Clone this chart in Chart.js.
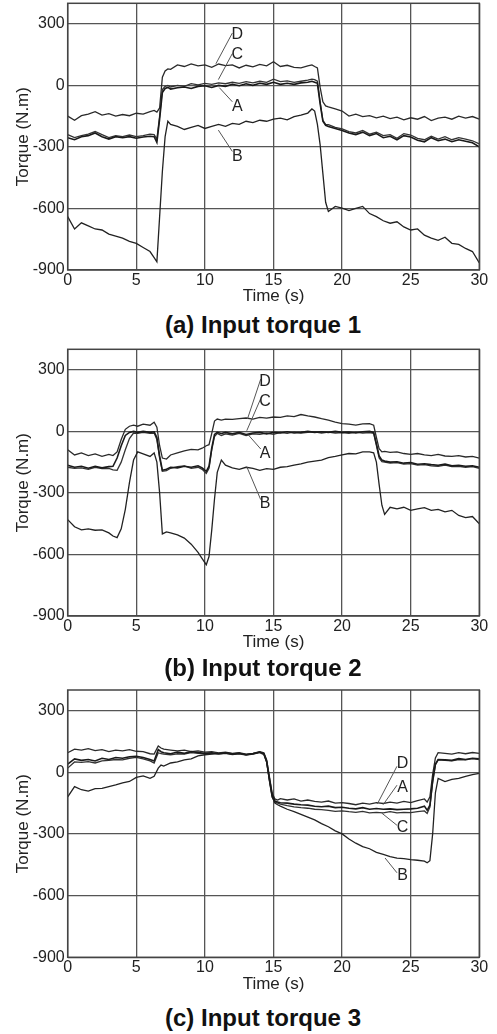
<!DOCTYPE html>
<html>
<head>
<meta charset="utf-8">
<title>Input torque A/B/C/D</title>
<script src="https://cdn.jsdelivr.net/npm/chart.js@4.4.1/dist/chart.umd.min.js"></script>
<style>
  body { margin: 0; background: #fff; }
  .panel { position: absolute; left: 0; width: 497px; }
  .caption { position: absolute; left: 0; width: 526px; text-align: center;
             font: bold 24px Arial, "Liberation Sans", sans-serif; line-height: 26px; color: #111; }
</style>
</head>
<body>
<div class="panel" style="top:0;height:310px"><canvas id="torque1"></canvas></div>
<div class="caption" style="top:312px">(a) Input torque 1</div>
<div class="panel" style="top:345px;height:310px"><canvas id="torque2"></canvas></div>
<div class="caption" style="top:655px">(b) Input torque 2</div>
<div class="panel" style="top:686px;height:312px"><canvas id="torque3"></canvas></div>
<div class="caption" style="top:1005px">(c) Input torque 3</div>
<script>

// ---- (a) input torque 1
var time1 = [0,0.5,1,1.5,2,2.5,3,3.5,4,4.5,5,5.5,6,
  6.3,6.5,6.7,6.9,7.1,7.3,7.5,
  8,8.5,9,9.5,10,10.5,11,11.5,12,12.5,13,13.5,14,14.5,15,15.5,16,16.5,17,17.5,
  17.8,18,18.2,18.4,18.6,18.8,
  19,19.5,20,20.5,21,21.5,22,22.5,23,23.5,24,24.5,25,25.5,26,26.5,27,27.5,28,28.5,29,29.5,30];
var curve1A = [-255,-265,-250,-245,-232,-250,-262,-250,-255,-250,-258,-252,-248,
  -250,-278,-165,-35,-15,-10,-18,
  -12,-8,-15,-5,-2,-10,0,-5,5,-2,8,0,10,5,15,5,10,5,12,15,
  20,15,10,-90,-175,-195,
  -200,-210,-220,-232,-240,-228,-245,-235,-255,-248,-265,-245,-252,-268,-275,-255,-270,-262,-275,-265,-272,-280,-300];
var curve1B = [-640,-700,-670,-685,-700,-705,-725,-735,-745,-760,-770,-790,-810,
  -840,-860,-640,-420,-250,-175,-190,
  -200,-215,-205,-195,-210,-200,-190,-200,-185,-190,-175,-182,-170,-175,-165,-160,-168,-152,-145,-135,
  -115,-125,-190,-290,-430,-570,
  -615,-590,-598,-610,-600,-590,-625,-640,-660,-672,-665,-690,-705,-700,-730,-745,-755,-740,-770,-775,-795,-810,-865];
var curve1C = [-240,-255,-245,-238,-225,-240,-255,-245,-250,-242,-250,-245,-238,
  -240,-262,-150,-20,-5,0,-8,
  0,-5,8,2,10,5,12,8,15,10,18,12,20,15,30,18,22,15,20,25,
  30,28,20,-80,-170,-190,
  -192,-205,-212,-225,-232,-220,-238,-228,-245,-240,-258,-235,-242,-258,-265,-248,-262,-250,-265,-255,-262,-270,-285];
var curve1D = [-150,-170,-148,-140,-128,-145,-138,-150,-142,-148,-136,-140,-128,
  -122,-130,-110,40,70,80,78,
  100,92,105,95,100,88,104,96,100,85,98,90,102,95,115,92,98,88,85,95,
  100,92,85,-10,-80,-100,
  -105,-115,-125,-150,-140,-152,-148,-158,-150,-162,-155,-168,-158,-165,-152,-172,-160,-155,-165,-150,-160,-152,-165];

// ---- (b) input torque 2
var time2 = [0,0.5,1,1.5,2,2.5,3,
  3.3,3.6,3.9,4.2,4.5,4.8,5.1,
  5.5,6,
  6.3,6.5,6.7,6.9,7.2,7.5,
  8,8.5,9,9.5,
  9.8,10.1,10.3,10.5,10.7,10.9,11.2,11.5,
  12,12.5,13,13.5,14,14.5,15,15.5,16,16.5,17,17.5,18,18.5,19,19.5,20,20.5,21,21.5,22,
  22.3,22.5,22.7,22.9,23.1,
  23.5,24,24.5,25,25.5,26,26.5,27,27.5,28,28.5,29,29.5,30];
var curve2A = [-165,-175,-170,-180,-170,-178,-172,
  -170,-130,-70,-20,-5,0,-5,
  0,-5,
  -2,-30,-120,-190,-185,-175,
  -178,-170,-175,-168,
  -178,-195,-170,-80,-15,-5,-10,-5,
  -12,-5,-15,-8,-5,-12,-5,-8,-2,-8,-5,0,-5,-2,-5,0,-5,-3,-8,-2,0,
  -5,-60,-120,-140,-145,
  -150,-148,-155,-152,-160,-158,-162,-165,-160,-168,-165,-170,-168,-175];
var curve2B = [-430,-465,-480,-475,-482,-480,-495,
  -510,-518,-475,-380,-250,-140,-100,
  -110,-122,
  -105,-150,-300,-500,-490,-495,
  -505,-520,-550,-590,
  -620,-650,-610,-480,-330,-200,-140,-165,
  -178,-185,-175,-180,-190,-182,-185,-175,-172,-165,-158,-150,-145,-140,-128,-122,-115,-108,-110,-100,-100,
  -105,-150,-260,-360,-405,
  -370,-378,-370,-385,-378,-372,-385,-380,-392,-385,-410,-420,-415,-450];
var curve2C = [-175,-180,-178,-185,-175,-182,-180,
  -188,-190,-150,-90,-35,-8,-10,
  -5,-10,
  -8,-40,-130,-195,-192,-180,
  -172,-168,-180,-175,
  -185,-205,-180,-90,-25,-10,-20,-12,
  -18,-10,-20,-12,-15,-8,-15,-5,-10,-3,-8,-5,-2,-8,-4,-8,-6,-10,-4,-8,-6,
  -10,-70,-130,-148,-150,
  -155,-152,-160,-157,-165,-162,-168,-170,-165,-172,-170,-175,-172,-180];
var curve2D = [-90,-115,-105,-118,-110,-122,-112,
  -118,-100,-40,10,25,30,25,
  35,30,
  45,20,-70,-130,-135,-115,
  -105,-95,-88,-90,
  -82,-70,-65,-10,50,60,55,60,
  58,62,65,60,68,65,70,68,75,72,82,75,70,62,55,45,38,35,30,36,38,
  30,-30,-85,-100,-98,
  -102,-100,-108,-112,-108,-115,-118,-112,-120,-122,-118,-125,-122,-130];

// ---- (c) input torque 3
var time3 = [0,0.5,1,1.5,2,2.5,3,3.5,4,4.5,5,5.5,6,
  6.3,6.6,6.8,
  7,7.5,8,8.5,9,9.5,10,10.5,11,11.5,12,12.5,13,13.5,14,
  14.3,14.5,14.7,14.9,15.1,15.3,
  15.5,16,16.5,17,17.5,18,18.5,19,19.5,20,20.5,21,21.5,22,22.5,23,23.5,24,24.5,25,25.5,26,
  26.2,26.4,26.6,26.8,27,
  27.5,28,28.5,29,29.5,30];
var curve3A = [40,65,58,62,55,68,62,72,68,75,78,72,62,
  55,110,100,
  95,90,98,92,100,96,92,95,90,94,88,92,85,90,98,
  90,55,-30,-110,-140,-145,
  -148,-150,-155,-158,-160,-165,-168,-165,-172,-170,-175,-178,-172,-180,-176,-180,-178,-182,-180,-178,-175,-165,
  -185,-160,-40,40,62,
  60,58,66,62,68,65];
var curve3B = [-120,-70,-85,-92,-80,-78,-70,-62,-52,-45,-25,-18,-30,
  -20,20,35,
  30,45,50,60,65,80,85,88,92,94,90,92,86,90,98,
  90,50,-40,-120,-150,-158,
  -165,-180,-192,-205,-218,-232,-250,-265,-285,-300,-325,-345,-362,-372,-390,-400,-410,-418,-420,-425,-428,-432,
  -440,-430,-300,-100,-30,
  -45,-35,-30,-20,-12,-5];
var curve3C = [20,50,48,52,45,55,58,62,60,68,72,65,55,
  45,95,90,
  88,85,90,88,95,92,90,92,88,92,86,90,84,88,95,
  85,50,-40,-120,-145,-150,
  -155,-162,-168,-172,-175,-180,-182,-185,-190,-188,-192,-195,-190,-198,-195,-198,-192,-198,-195,-196,-192,-188,
  -200,-170,-50,35,60,
  58,55,62,60,66,62];
var curve3D = [95,112,108,115,105,110,100,108,104,110,102,100,90,
  88,128,118,
  112,108,104,108,100,104,98,100,94,98,92,95,88,92,100,
  95,60,-20,-100,-130,-135,
  -128,-135,-130,-140,-135,-142,-145,-140,-150,-148,-152,-158,-150,-155,-148,-152,-145,-150,-142,-148,-138,-130,
  -145,-120,-10,70,95,
  92,88,95,90,96,92];

// axis ticks
var timeTicks = [0, 5, 10, 15, 20, 25, 30];
var torqueTicks = [-900, -600, -300, 0, 300];

// curve letters with their pointer lines, in data units (time s, torque N.m)
var tags1 = [
  { text: 'D', at: [12.36, 246], from: [12.0, 255], to: [10.8, 105] },
  { text: 'C', at: [12.36, 149], from: [12.0, 155], to: [10.98, 28] },
  { text: 'A', at: [12.36, -102], from: [12.0, -80], to: [11.05, -11] },
  { text: 'B', at: [12.36, -345], from: [12.0, -322], to: [10.98, -218] }
];
var tags2 = [
  { text: 'D', at: [14.38, 243], from: [14.07, 255], to: [13.1, 60] },
  { text: 'C', at: [14.38, 144], from: [14.07, 160], to: [13.05, 3] },
  { text: 'A', at: [14.38, -107], from: [14.07, -86], to: [13.16, -17] },
  { text: 'B', at: [14.38, -353], from: [14.07, -333], to: [13.05, -172] }
];
var tags3 = [
  { text: 'D', at: [24.41, 42], from: [24.0, 29], to: [22.57, -154] },
  { text: 'A', at: [24.41, -76], from: [24.0, -63], to: [23.0, -157] },
  { text: 'C', at: [24.41, -271], from: [24.0, -258], to: [22.88, -198] },
  { text: 'B', at: [24.41, -505], from: [24.0, -489], to: [23.13, -417] }
];

Chart.defaults.font.family = 'Arial, "Liberation Sans", Helvetica, sans-serif';
Chart.defaults.color = '#222';

// box around the plot area (top and right edges are not grid lines)
var frame = {
  id: 'frame',
  afterDatasetsDraw: function(chart) {
    var a = chart.chartArea, ctx = chart.ctx;
    ctx.save();
    ctx.strokeStyle = '#444';
    ctx.lineWidth = 1.5;
    ctx.strokeRect(a.left, a.top, a.right - a.left, a.bottom - a.top);
    ctx.restore();
  }
};

function tagPlugin(tags) {
  return {
    id: 'curveTags',
    afterDatasetsDraw: function(chart) {
      var xs = chart.scales.x, ys = chart.scales.y, ctx = chart.ctx;
      ctx.save();
      ctx.strokeStyle = '#555';
      ctx.lineWidth = 1;
      ctx.fillStyle = '#222';
      ctx.font = '16px Arial, "Liberation Sans", sans-serif';
      ctx.textAlign = 'center';
      ctx.textBaseline = 'middle';
      tags.forEach(function(tag) {
        ctx.beginPath();
        ctx.moveTo(xs.getPixelForValue(tag.from[0]), ys.getPixelForValue(tag.from[1]));
        ctx.lineTo(xs.getPixelForValue(tag.to[0]), ys.getPixelForValue(tag.to[1]));
        ctx.stroke();
        ctx.fillText(tag.text, xs.getPixelForValue(tag.at[0]), ys.getPixelForValue(tag.at[1]));
      });
      ctx.restore();
    }
  };
}

function points(time, values) {
  return time.map(function(t, i) { return { x: t, y: values[i] }; });
}

function drawPanel(canvasId, time, curves, tags, padTop, padBottom) {
  var styles = [
    { label: 'A', color: '#1a1a1a', width: 1.6 },
    { label: 'B', color: '#222222', width: 1.3 },
    { label: 'C', color: '#333333', width: 1.3 },
    { label: 'D', color: '#2a2a2a', width: 1.3 }
  ];
  return new Chart(document.getElementById(canvasId), {
    type: 'line',
    data: {
      datasets: curves.map(function(vals, i) {
        return {
          label: styles[i].label,
          data: points(time, vals),
          borderColor: styles[i].color,
          borderWidth: styles[i].width,
          pointRadius: 0,
          tension: 0,
          fill: false
        };
      })
    },
    options: {
      animation: false,
      responsive: true,
      maintainAspectRatio: false,
      layout: { padding: { top: padTop, right: 17.7, bottom: padBottom, left: 0 } },
      plugins: { legend: { display: false }, tooltip: { enabled: false } },
      scales: {
        x: {
          type: 'linear',
          min: 0,
          max: 30,
          afterBuildTicks: function(scale) {
            scale.ticks = timeTicks.map(function(v) { return { value: v }; });
          },
          afterFit: function(scale) {
            scale.height = 37;
            scale.paddingLeft = 0;
            scale.paddingRight = 0;
          },
          grid: { color: '#555', lineWidth: 1.3, drawTicks: false },
          border: { display: false },
          ticks: { padding: 1, maxRotation: 0, font: { size: 16 }, color: '#222' },
          title: { display: true, text: 'Time (s)', font: { size: 17 }, color: '#222', padding: 0 }
        },
        y: {
          min: -900,
          max: 400,
          afterBuildTicks: function(scale) {
            scale.ticks = torqueTicks.map(function(v) { return { value: v }; });
          },
          afterFit: function(scale) {
            scale.width = 67.7;
            scale.paddingTop = 0;
            scale.paddingBottom = 0;
          },
          grid: { color: '#555', lineWidth: 1.3, drawTicks: false },
          border: { display: false },
          ticks: { padding: 3, font: { size: 16 }, color: '#222' },
          title: { display: true, text: 'Torque (N.m)', font: { size: 17 }, color: '#222',
                   padding: { top: 12.8, bottom: 0 } }
        }
      }
    },
    plugins: [frame, tagPlugin(tags)]
  });
}

drawPanel('torque1', time1, [curve1A, curve1B, curve1C, curve1D], tags1, 3.3, 3);
drawPanel('torque2', time2, [curve2A, curve2B, curve2C, curve2D], tags2, 4.3, 2);
drawPanel('torque3', time3, [curve3A, curve3B, curve3C, curve3D], tags3, 4, 3.7);
</script>
</body>
</html>
